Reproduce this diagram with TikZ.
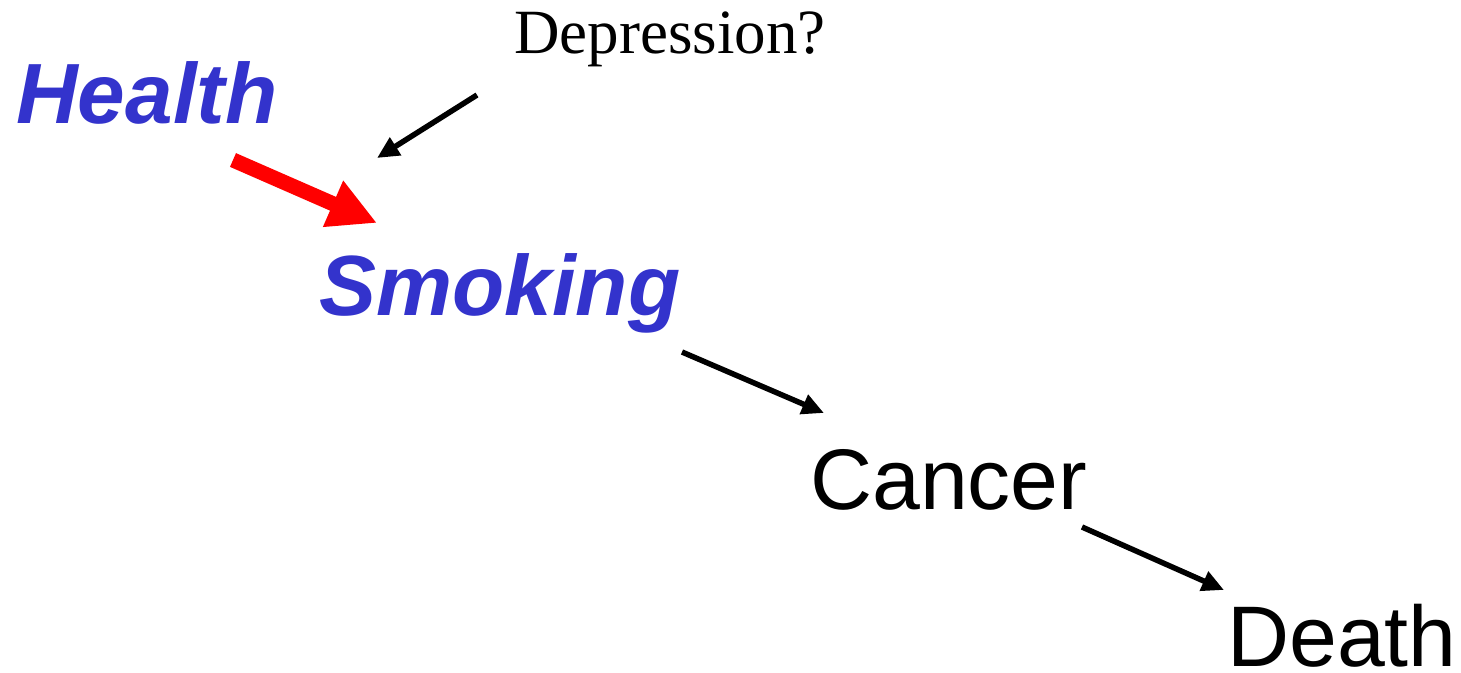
\documentclass[tikz,border=0pt]{standalone}
\usepackage{fontspec}
\setmainfont{Liberation Sans}
\newfontfamily\timesfont{Liberation Serif}
\usetikzlibrary{arrows.meta}
\definecolor{labelblue}{HTML}{3333CC}
\tikzset{
  x=1pt, y=-1pt,
  lbl/.style={inner sep=0pt, anchor=base west},
  keyterm/.style={lbl, text=labelblue, font=\fontsize{85.5}{85.5}\selectfont\bfseries\itshape},
  plainterm/.style={lbl, text=black, font=\fontsize{86}{86}\selectfont},
  causal/.style={line width=5.5pt, -{Triangle[length=22pt,width=20pt]}},
  strongcausal/.style={red, line width=15pt, -{Triangle[length=48pt,width=47pt]}}
}
\begin{document}
\begin{tikzpicture}
\useasboundingbox (0,0) rectangle (1461,672);
\node[lbl, font=\fontsize{63}{63}\selectfont\timesfont] (depr) at (514,53) {Depression?};
\node[keyterm] (health) at (16,123) {Health};
\node[keyterm] (smoking) at (319,315) {Smoking};
\node[plainterm] (cancer) at (810,509) {Cancer};
\node[plainterm] (death) at (1227,666) {Death};
% arrow end points beside the labels
\coordinate (depr-out) at (477,95);
\coordinate (smok-in1) at (377,158);
\coordinate (health-out) at (233,160);
\coordinate (smok-in2) at (377,223);
\coordinate (smok-out) at (682,352);
\coordinate (canc-in) at (824,413);
\coordinate (canc-out) at (1082,527);
\coordinate (death-in) at (1224,590);
\draw[causal] (depr-out) -- (smok-in1);
\draw[strongcausal] (health-out) -- (smok-in2);
\draw[causal] (smok-out) -- (canc-in);
\draw[causal] (canc-out) -- (death-in);
\end{tikzpicture}
\end{document}
